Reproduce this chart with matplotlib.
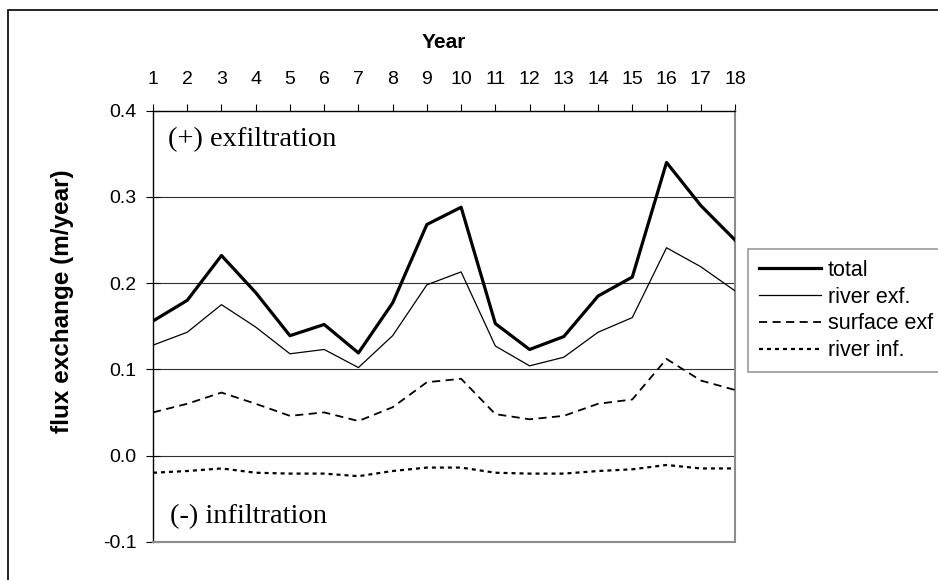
import matplotlib
matplotlib.use('Agg')
import matplotlib.pyplot as plt
from matplotlib.patches import Rectangle
from matplotlib.ticker import FormatStrFormatter

plt.rcParams['font.family'] = ['Liberation Sans', 'DejaVu Sans']

years = list(range(1, 19))
total = [0.156, 0.180, 0.232, 0.189, 0.139, 0.152, 0.119, 0.177, 0.268,
         0.288, 0.153, 0.123, 0.138, 0.185, 0.207, 0.340, 0.290, 0.250]
river_exf = [0.128, 0.143, 0.175, 0.149, 0.118, 0.123, 0.102, 0.139, 0.198,
             0.213, 0.127, 0.104, 0.114, 0.143, 0.160, 0.241, 0.219, 0.191]
surface_exf = [0.050, 0.060, 0.073, 0.060, 0.046, 0.050, 0.040, 0.056, 0.085,
               0.089, 0.048, 0.042, 0.046, 0.060, 0.065, 0.112, 0.087, 0.076]
river_inf = [-0.020, -0.018, -0.015, -0.020, -0.021, -0.021, -0.024, -0.018, -0.014,
             -0.014, -0.020, -0.021, -0.021, -0.018, -0.016, -0.011, -0.015, -0.015]
yticks = [-0.1, 0.0, 0.1, 0.2, 0.3, 0.4]

fig = plt.figure(figsize=(9.38, 5.8), dpi=100)
ax = fig.add_axes([153 / 938, 1 - 541.7 / 580, 582 / 938, 431 / 580])

# horizontal gridlines
for v in [0.0, 0.1, 0.2, 0.3]:
    ax.axhline(v, color='#303030', lw=0.8, zorder=1)

ax.plot(years, total, color='black', lw=2.3, label='total', zorder=3)
ax.plot(years, river_exf, color='black', lw=0.9, label='river exf.', zorder=3)
ax.plot(years, surface_exf, color='black', lw=1.3, dashes=(4.5, 3), label='surface exf', zorder=3)
ax.plot(years, river_inf, color='black', lw=1.6, dashes=(1.8, 1.8), label='river inf.', zorder=3)

ax.set_xlim(1, 18)
ax.set_ylim(-0.1, 0.4)
ax.set_xticks(years)
ax.set_yticks(yticks)
ax.yaxis.set_major_formatter(FormatStrFormatter('%.1f'))

ax.xaxis.tick_top()
ax.tick_params(axis='x', direction='out', length=5, width=0.8, pad=11, labelsize=14)
ax.tick_params(axis='y', direction='inout', length=9.4, width=0.8, pad=7, labelsize=14)

ax.spines['left'].set_linewidth(1)
ax.spines['top'].set_linewidth(1)
for s in ['right', 'bottom']:
    ax.spines[s].set_color('#8c8c8c')
    ax.spines[s].set_linewidth(1.5)

ax.set_xlabel('Year', fontsize=15, fontweight='bold', va='center')
ax.xaxis.set_label_coords(0.5, 1.159)
ax.set_ylabel('flux exchange (m/year)', fontsize=17.5, fontweight='bold', va='center')
ax.yaxis.set_label_coords(-0.1555, 0.5585)

ax.text(1.45, 0.366, '(+) exfiltration', family='Liberation Serif', fontsize=20.5, va='center')
ax.text(1.5, -0.071, '(-) infiltration', family='Liberation Serif', fontsize=20.5, va='center')

leg = fig.legend(loc='upper left', bbox_to_anchor=(748 / 938, 1 - 249 / 580),
                 bbox_transform=fig.transFigure, fontsize=15.5, frameon=True,
                 fancybox=False, handlelength=2.9, handletextpad=0.3,
                 labelspacing=0.27, borderaxespad=0, borderpad=0.5)
leg.get_frame().set_edgecolor('#808080')
leg.get_frame().set_linewidth(1.2)

# outer chart border (cut off on the right and bottom)
fig.patches.append(Rectangle((8 / 938, -0.1), 1.2, 1.1 - 10 / 580, transform=fig.transFigure,
                             fill=False, edgecolor='black', lw=1.2))

plt.savefig('out.png', dpi=100)
